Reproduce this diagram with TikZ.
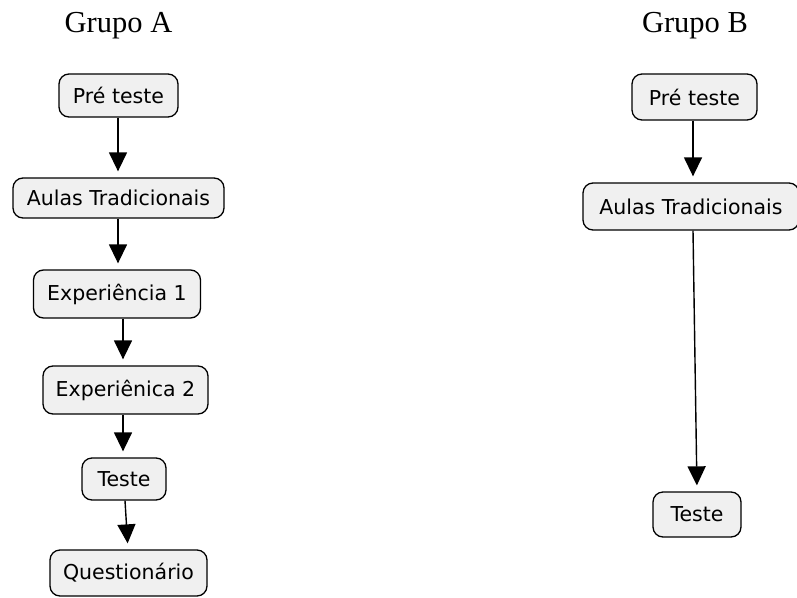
\documentclass[tikz,border=0pt]{standalone}
\usepackage{fontspec}
\setmainfont{Liberation Serif}
\newfontfamily\boxfont{DejaVu Sans}
\usetikzlibrary{arrows.meta}
\definecolor{boxfill}{HTML}{F0F0F0}
\tikzset{
  stepbox/.style={draw=black, line width=1.3pt, fill=boxfill, rounded corners=10pt,
    inner sep=0pt, font=\boxfont\fontsize{20.5}{24}\selectfont, text=black},
  grouptitle/.style={font=\fontsize{30.5}{36}\selectfont, anchor=base, inner sep=0pt},
  arr/.style={line width=1.4pt, -{Triangle[width=18pt,length=19pt]}, shorten >=6pt}
}
\begin{document}
\begin{tikzpicture}[x=1pt,y=-1pt]
\useasboundingbox (0,0) rectangle (797,597);
% titles
\node[grouptitle] (tA) at (118.5,32) {Grupo A};
\node[grouptitle] (tB) at (695,32) {Grupo B};
% group A
\node[stepbox, minimum width=119pt, minimum height=43pt] (preA) at (118.5,95.5) {Pré teste};
\node[stepbox, minimum width=211pt, minimum height=40pt] (aulA) at (118.5,198) {Aulas Tradicionais};
\node[stepbox, minimum width=167pt, minimum height=48pt] (exp1) at (117,294) {Experiência 1};
\node[stepbox, minimum width=165pt, minimum height=48pt] (exp2) at (125.5,390) {Experiênica 2};
\node[stepbox, minimum width=84pt, minimum height=42pt] (tesA) at (124,479) {Teste};
\node[stepbox, minimum width=157pt, minimum height=46pt] (quest) at (128.5,573) {Questionário};
% group B
\node[stepbox, minimum width=216pt, minimum height=47pt] (aulB) at (691,206.5) {Aulas Tradicionais};
\node[stepbox, minimum width=125pt, minimum height=46pt] (preB) at (694.5,97) {Pré teste};
\node[stepbox, minimum width=88pt, minimum height=45pt] (tesB) at (697,514.5) {Teste};
% arrows A
\draw[arr] ([xshift=-0.5pt]preA.south) -- ([xshift=-0.5pt]aulA.north);
\draw[arr] ([xshift=-0.5pt]aulA.south) -- ([xshift=1pt]exp1.north);
\draw[arr] ([xshift=6pt]exp1.south) -- ([xshift=-2.5pt]exp2.north);
\draw[arr] ([xshift=-2.5pt]exp2.south) -- ([xshift=-1pt]tesA.north);
\draw[arr] ([xshift=1pt]tesA.south) -- ([xshift=-0.5pt]quest.north);
% arrows B
\draw[arr] ([xshift=-1.5pt]preB.south) -- ([xshift=2pt]aulB.north);
\draw[arr] ([xshift=2pt]aulB.south) -- (tesB.north);
\end{tikzpicture}
\end{document}
